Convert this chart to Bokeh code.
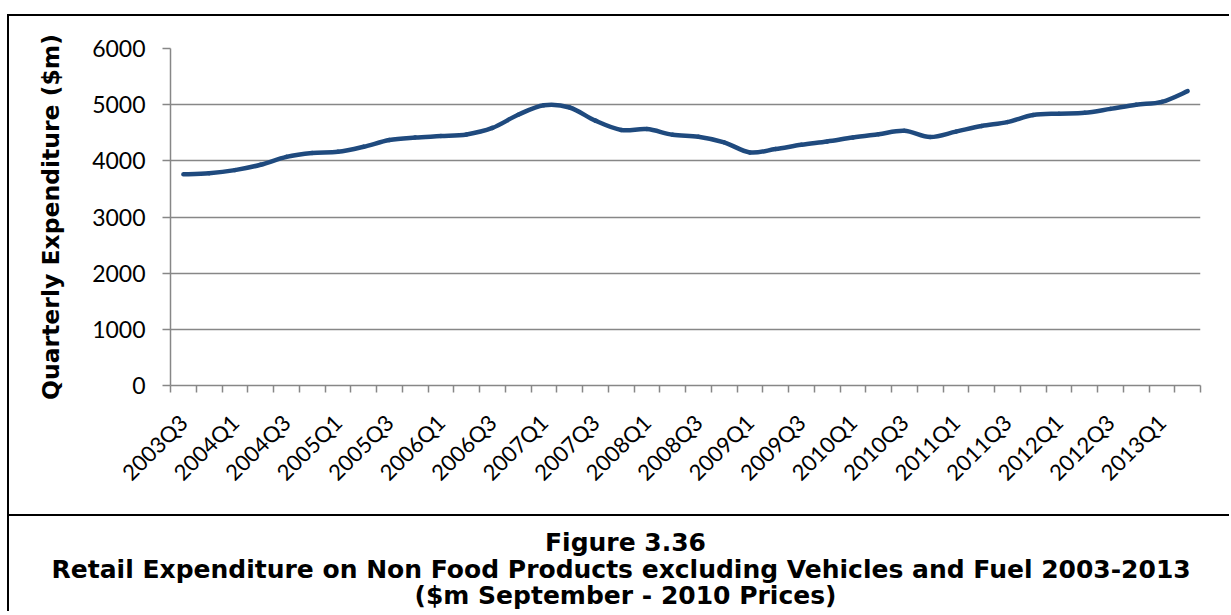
import math
from bokeh.plotting import figure
from bokeh.models import Range1d, FixedTicker, Label
from bokeh.embed import file_html
from bokeh.resources import INLINE

quarters = [
    "2003Q3", "2003Q4", "2004Q1", "2004Q2", "2004Q3", "2004Q4",
    "2005Q1", "2005Q2", "2005Q3", "2005Q4", "2006Q1", "2006Q2",
    "2006Q3", "2006Q4", "2007Q1", "2007Q2", "2007Q3", "2007Q4",
    "2008Q1", "2008Q2", "2008Q3", "2008Q4", "2009Q1", "2009Q2",
    "2009Q3", "2009Q4", "2010Q1", "2010Q2", "2010Q3", "2010Q4",
    "2011Q1", "2011Q2", "2011Q3", "2011Q4", "2012Q1", "2012Q2",
    "2012Q3", "2012Q4", "2013Q1", "2013Q2",
]
expenditure = [
    3760, 3780, 3835, 3930, 4070, 4140, 4160, 4250, 4370, 4415,
    4440, 4470, 4585, 4820, 4990, 4950, 4715, 4550, 4565, 4465,
    4430, 4330, 4150, 4210, 4285, 4345, 4415, 4475, 4535, 4425,
    4520, 4620, 4690, 4815, 4840, 4855, 4925, 5000, 5050, 5240,
]
y_ticks = [0, 1000, 2000, 3000, 4000, 5000, 6000]

TICK_FONT = "Lato"
BOLD_FONT = "DejaVu Sans"
GRID = "#878787"
n = len(quarters)
xs = [i + 0.5 for i in range(n)]

W = 1222
p = figure(width=W, height=500, x_range=Range1d(0, n), y_range=Range1d(0, 6000),
           output_backend="svg", toolbar_location=None,
           min_border_left=161, min_border_right=31, min_border_top=32, min_border_bottom=131)
p.outline_line_color = None
p.background_fill_color = "white"
p.border_fill_color = "white"

# smoothed line (Excel style) drawn as bezier segments through the data points
x0, y0, x1, y1, cx0, cy0, cx1, cy1 = [], [], [], [], [], [], [], []
for i in range(n - 1):
    xa, ya = xs[i], expenditure[i]
    xb, yb = xs[i + 1], expenditure[i + 1]
    xp, yp = (xs[i - 1], expenditure[i - 1]) if i > 0 else (xa, ya)
    xn, yn = (xs[i + 2], expenditure[i + 2]) if i + 2 < n else (xb, yb)
    x0.append(xa); y0.append(ya); x1.append(xb); y1.append(yb)
    cx0.append(xa + (xb - xp) / 6.0); cy0.append(ya + (yb - yp) / 6.0)
    cx1.append(xb - (xn - xa) / 6.0); cy1.append(yb - (yn - ya) / 6.0)
p.bezier(x0=x0, y0=y0, x1=x1, y1=y1, cx0=cx0, cy0=cy0, cx1=cx1, cy1=cy1,
         line_color="#1f4a7e", line_width=4.5, line_cap="round")

# x axis: labels at every other category centre, tick marks at category boundaries
xaxis = p.xaxis[0]
xaxis.ticker = FixedTicker(ticks=[xs[i] for i in range(0, n, 2)],
                           minor_ticks=list(range(n + 1)))
xaxis.major_label_overrides = {xs[i]: quarters[i] for i in range(0, n, 2)}
xaxis.major_label_orientation = math.pi / 4
xaxis.major_tick_line_color = None
xaxis.major_tick_out = 0
xaxis.major_tick_in = 0
xaxis.minor_tick_line_color = GRID
xaxis.minor_tick_line_width = 1.5
xaxis.minor_tick_out = 7
xaxis.minor_tick_in = 0
xaxis.axis_line_color = GRID
xaxis.axis_line_width = 1.5
xaxis.major_label_text_font = TICK_FONT
xaxis.major_label_text_font_size = "22px"
xaxis.major_label_text_color = "black"
xaxis.major_label_standoff = 26

yaxis = p.yaxis[0]
yaxis.ticker = FixedTicker(ticks=y_ticks)
yaxis.minor_tick_line_color = None
yaxis.major_tick_line_color = GRID
yaxis.major_tick_line_width = 1.5
yaxis.major_tick_out = 8
yaxis.major_tick_in = 0
yaxis.axis_line_color = GRID
yaxis.axis_line_width = 1.5
yaxis.major_label_text_font = TICK_FONT
yaxis.major_label_text_font_size = "23px"
yaxis.major_label_text_color = "black"
yaxis.major_label_standoff = 17
yaxis.axis_label = "Quarterly Expenditure ($m)"
yaxis.axis_label_text_font = BOLD_FONT
yaxis.axis_label_text_font_size = "23.5px"
yaxis.axis_label_text_font_style = "bold"
yaxis.axis_label_text_color = "black"
yaxis.axis_label_standoff = 24

p.xgrid.visible = False
p.ygrid.grid_line_color = GRID
p.ygrid.grid_line_width = 1.5

p.styles = {"margin-top": "14px", "margin-left": "7px",
            "border-top": "2px solid black", "border-left": "2px solid black"}

# caption panel
H2 = 97
p2 = figure(width=W, height=H2, x_range=Range1d(0, W), y_range=Range1d(0, H2),
            output_backend="svg", toolbar_location=None, x_axis_type=None, y_axis_type=None,
            min_border=0, min_border_left=0, min_border_right=0,
            min_border_top=0, min_border_bottom=0)
p2.outline_line_color = None
p2.grid.visible = False
p2.border_fill_color = "white"
captions = ["Figure 3.36",
            "Retail Expenditure on Non Food Products excluding Vehicles and Fuel  2003-2013",
            "($m September - 2010 Prices)"]
caption_baselines = [71, 44, 18]
for txt, yb in zip(captions, caption_baselines):
    p2.add_layout(Label(x=616, y=yb, text=txt, text_align="center", text_baseline="alphabetic",
                        text_font=BOLD_FONT, text_font_size="25px", text_font_style="bold",
                        text_color="black"))
p2.styles = {"margin-left": "7px",
             "border-top": "2px solid black", "border-left": "2px solid black"}

open("out.html", "w").write(file_html([p, p2], INLINE))
